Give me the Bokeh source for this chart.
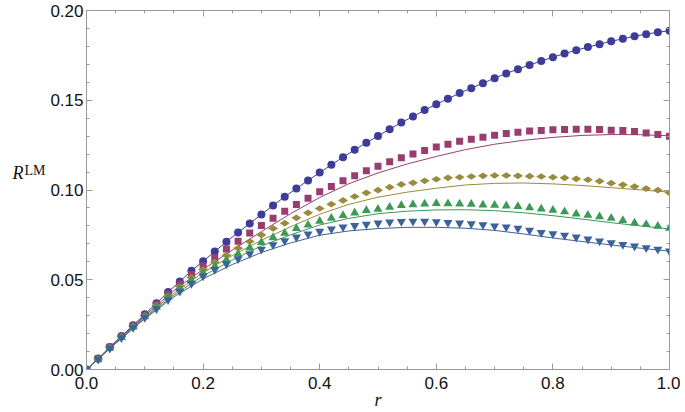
from bokeh.plotting import figure
from bokeh.models import FixedTicker, LinearAxis, Range1d
from bokeh.embed import file_html
from bokeh.resources import INLINE
import numpy as np

# ---------------- data ----------------
r_pts = [round(0.02 * i, 2) for i in range(51)]

circles = [0.0, 0.0061, 0.0126, 0.0186, 0.0247, 0.0308, 0.0369, 0.0432, 0.0490, 0.0550,
           0.0603, 0.0657, 0.0712, 0.0763, 0.0813, 0.0864, 0.0914, 0.0962, 0.1008, 0.1053,
           0.1097, 0.1140, 0.1183, 0.1224, 0.1263, 0.1301, 0.1339, 0.1376, 0.1409, 0.1445,
           0.1478, 0.1508, 0.1540, 0.1567, 0.1595, 0.1623, 0.1649, 0.1673, 0.1697, 0.1718,
           0.1740, 0.1760, 0.1779, 0.1796, 0.1812, 0.1829, 0.1842, 0.1857, 0.1868, 0.1879,
           0.1887]
squares = [0.0, 0.0060, 0.0124, 0.0184, 0.0244, 0.0303, 0.0362, 0.0421, 0.0477, 0.0529,
           0.0578, 0.0624, 0.0671, 0.0715, 0.0760, 0.0802, 0.0843, 0.0882, 0.0919, 0.0954,
           0.0990, 0.1019, 0.1051, 0.1079, 0.1107, 0.1132, 0.1157, 0.1179, 0.1200, 0.1220,
           0.1239, 0.1255, 0.1272, 0.1283, 0.1294, 0.1305, 0.1315, 0.1322, 0.1328, 0.1331,
           0.1335, 0.1337, 0.1339, 0.1339, 0.1337, 0.1333, 0.1331, 0.1326, 0.1317, 0.1309,
           0.1300]
diamonds = [0.0, 0.0059, 0.0122, 0.0182, 0.0241, 0.0299, 0.0357, 0.0410, 0.0464, 0.0513,
            0.0556, 0.0598, 0.0637, 0.0676, 0.0713, 0.0750, 0.0786, 0.0815, 0.0845, 0.0873,
            0.0897, 0.0921, 0.0942, 0.0964, 0.0984, 0.0999, 0.1016, 0.1031, 0.1040, 0.1051,
            0.1060, 0.1068, 0.1071, 0.1075, 0.1079, 0.1081, 0.1081, 0.1079, 0.1077, 0.1075,
            0.1071, 0.1068, 0.1062, 0.1057, 0.1049, 0.1038, 0.1029, 0.1019, 0.1008, 0.0999,
            0.0984]
tri_up = [0.0, 0.0058, 0.0120, 0.0179, 0.0237, 0.0294, 0.0349, 0.0403, 0.0451, 0.0496,
          0.0539, 0.0576, 0.0611, 0.0644, 0.0678, 0.0708, 0.0735, 0.0760, 0.0786, 0.0806,
          0.0826, 0.0843, 0.0858, 0.0873, 0.0886, 0.0893, 0.0904, 0.0914, 0.0919, 0.0923,
          0.0925, 0.0924, 0.0923, 0.0921, 0.0917, 0.0915, 0.0912, 0.0908, 0.0902, 0.0895,
          0.0888, 0.0879, 0.0867, 0.0860, 0.0851, 0.0843, 0.0830, 0.0817, 0.0808, 0.0798,
          0.0787]
tri_down = [0.0, 0.0057, 0.0118, 0.0176, 0.0233, 0.0289, 0.0338, 0.0388, 0.0435, 0.0479,
            0.0520, 0.0557, 0.0588, 0.0617, 0.0644, 0.0670, 0.0695, 0.0717, 0.0737, 0.0754,
            0.0769, 0.0782, 0.0793, 0.0801, 0.0809, 0.0815, 0.0821, 0.0824, 0.0825, 0.0825,
            0.0823, 0.0819, 0.0815, 0.0811, 0.0806, 0.0799, 0.0793, 0.0786, 0.0775, 0.0763,
            0.0756, 0.0747, 0.0737, 0.0726, 0.0715, 0.0706, 0.0696, 0.0687, 0.0678, 0.0670,
            0.0659]

r_line = [round(0.05 * i, 2) for i in range(21)]
line_sq = [0.0, 0.0152, 0.0300, 0.0440, 0.0558, 0.0665, 0.0768, 0.0868, 0.0958, 0.1035,
           0.1095, 0.1145, 0.1187, 0.1225, 0.1255, 0.1277, 0.1293, 0.1304, 0.1309, 0.1308,
           0.1302]
line_di = [0.0, 0.0149, 0.0293, 0.0425, 0.0540, 0.0635, 0.0720, 0.0795, 0.0865, 0.0920,
           0.0960, 0.0988, 0.1010, 0.1028, 0.1037, 0.1039, 0.1034, 0.1025, 0.1013, 0.1001,
           0.0988]
line_up = [0.0, 0.0147, 0.0288, 0.0415, 0.0522, 0.0610, 0.0688, 0.0750, 0.0805, 0.0842,
           0.0868, 0.0882, 0.0889, 0.0890, 0.0885, 0.0873, 0.0857, 0.0838, 0.0818, 0.0800,
           0.0783]
line_dn = [0.0, 0.0145, 0.0283, 0.0405, 0.0505, 0.0585, 0.0652, 0.0705, 0.0748, 0.0772,
           0.0785, 0.0792, 0.0792, 0.0787, 0.0775, 0.0755, 0.0733, 0.0713, 0.0694, 0.0676,
           0.0659]

x_ticks = [0.0, 0.2, 0.4, 0.6, 0.8, 1.0]
y_ticks = [0.0, 0.05, 0.10, 0.15, 0.20]
x_tick_labels = ["0.0", "0.2", "0.4", "0.6", "0.8", "1.0"]
y_tick_labels = ["0.00", "0.05", "0.10", "0.15", "0.20"]

# ---------------- style ----------------
C1 = "#3d3d99"
C2 = "#993d71"
C3 = "#998b3d"
C4 = "#3d9956"
C5 = "#3d6199"
AXC = "#9a9a9a"
FONT = "Liberation Sans"
SERIF = "Liberation Serif"
TXT = "#111111"

p = figure(frame_width=583, frame_height=359, output_backend="svg", toolbar_location=None,
           x_range=Range1d(0, 1), y_range=Range1d(0, 0.2),
           min_border_left=86, min_border_right=11, min_border_top=10, min_border_bottom=41)
p.outline_line_color = None
p.xgrid.visible = False
p.ygrid.visible = False

x_minor = [round(0.05 * i, 2) for i in range(21)]
y_minor = [round(0.01 * i, 2) for i in range(21)]

def style_axis(ax, ticks, minor, labels, show):
    ax.ticker = FixedTicker(ticks=ticks, minor_ticks=minor)
    ax.major_label_overrides = {t: l for t, l in zip(ticks, labels)}
    ax.axis_line_color = AXC
    ax.axis_line_width = 1
    ax.major_tick_line_color = AXC
    ax.minor_tick_line_color = AXC
    ax.major_tick_in = 6
    ax.major_tick_out = 0
    ax.minor_tick_in = 3
    ax.minor_tick_out = 0
    ax.major_label_text_font = FONT
    ax.major_label_text_font_size = "17px"
    ax.major_label_text_color = TXT if show else None

style_axis(p.xaxis[0], x_ticks, x_minor, x_tick_labels, True)
style_axis(p.yaxis[0], y_ticks, y_minor, y_tick_labels, True)
p.xaxis[0].major_label_standoff = 7
p.yaxis[0].major_label_standoff = 3

# x axis label
p.xaxis[0].axis_label = "r"
p.xaxis[0].axis_label_text_font = SERIF
p.xaxis[0].axis_label_text_font_style = "italic"
p.xaxis[0].axis_label_text_font_size = "18px"
p.xaxis[0].axis_label_text_color = TXT
p.xaxis[0].axis_label_standoff = -2

# y axis label R^LM built from two label-only axes (trailing blank lines lift the text)
def label_axis(text, size, style, standoff):
    ax = LinearAxis(ticker=FixedTicker(ticks=[], minor_ticks=[]))
    ax.axis_line_color = None
    ax.major_tick_line_color = None
    ax.minor_tick_line_color = None
    ax.major_tick_in = 0
    ax.major_tick_out = 0
    ax.minor_tick_in = 0
    ax.minor_tick_out = 0
    ax.major_label_standoff = 0
    ax.major_label_text_color = None
    ax.axis_label = text
    ax.axis_label_orientation = "horizontal"
    ax.axis_label_text_font = SERIF
    ax.axis_label_text_font_style = style
    ax.axis_label_text_font_size = size
    ax.axis_label_text_line_height = 0.86
    ax.axis_label_text_color = TXT
    ax.axis_label_standoff = standoff
    return ax

p.add_layout(label_axis("LM\n \n \n ", "14px", "normal", 2), "left")
p.add_layout(label_axis("R\n \n ", "18px", "italic", -2), "left")

top = LinearAxis()
style_axis(top, x_ticks, x_minor, x_tick_labels, False)
p.add_layout(top, "above")
right = LinearAxis()
style_axis(right, y_ticks, y_minor, y_tick_labels, False)
p.add_layout(right, "right")

# ---------------- lines ----------------
p.line(r_pts, circles, line_color=C1, line_width=1)
p.line(r_line, line_sq, line_color=C2, line_width=1)
p.line(r_line, line_di, line_color=C3, line_width=1)
p.line(r_line, line_up, line_color=C4, line_width=1)
p.line(r_line, line_dn, line_color=C5, line_width=1)

# ---------------- markers ----------------
p.scatter(r_pts, circles, marker="circle", size=8, fill_color=C1, line_color=None)
p.scatter(r_pts, squares, marker="square", size=7, fill_color=C2, line_color=None)
p.scatter(r_pts, diamonds, marker="diamond", size=10, angle=np.pi / 2,
          fill_color=C3, line_color=None)
p.scatter(r_pts, tri_up, marker="triangle", size=9, fill_color=C4, line_color=None)
p.scatter(r_pts, tri_down, marker="inverted_triangle", size=9, fill_color=C5, line_color=None)

open("out.html", "w").write(file_html(p, INLINE))
